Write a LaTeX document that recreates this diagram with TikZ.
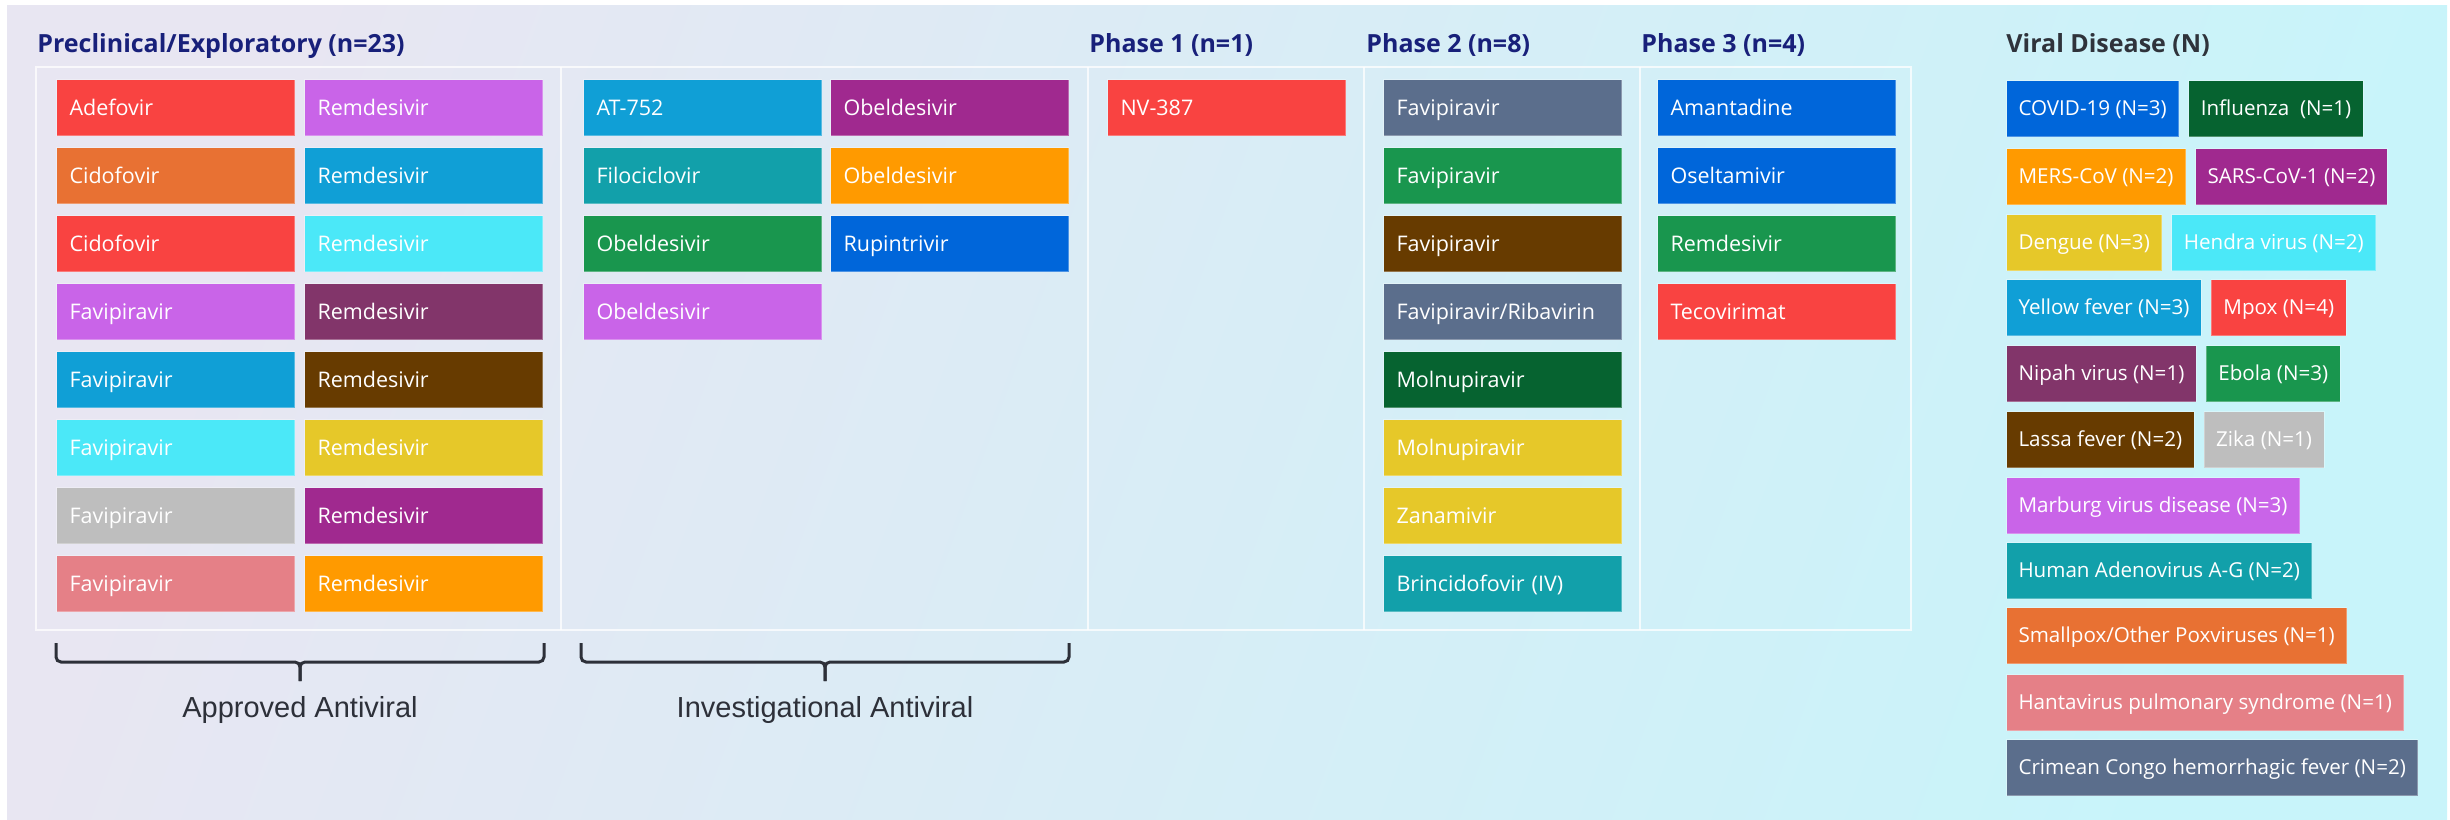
\documentclass[tikz,border=0pt]{standalone}
\usepackage{fontspec}
\setmainfont{Open Sans}
\newfontfamily\bracefont{Liberation Sans}
\usetikzlibrary{positioning}

\definecolor{cRed}{HTML}{F94341}
\definecolor{cOrange}{HTML}{E87133}
\definecolor{cViolet}{HTML}{C964E8}
\definecolor{cBlue}{HTML}{109FD6}
\definecolor{cCyan}{HTML}{4BE8F8}
\definecolor{cPlum}{HTML}{82356A}
\definecolor{cBrown}{HTML}{673B00}
\definecolor{cYellow}{HTML}{E6C829}
\definecolor{cGray}{HTML}{BEBEBE}
\definecolor{cMagenta}{HTML}{A0298F}
\definecolor{cPink}{HTML}{E58087}
\definecolor{cAmber}{HTML}{FF9A00}
\definecolor{cTeal}{HTML}{12A0AA}
\definecolor{cGreen}{HTML}{19964E}
\definecolor{cRoyal}{HTML}{0066DA}
\definecolor{cSlate}{HTML}{5B6E8C}
\definecolor{cForest}{HTML}{066330}
\definecolor{headnavy}{HTML}{18207A}
\definecolor{headgray}{HTML}{2F333B}
\definecolor{braceclr}{HTML}{2D3039}
\definecolor{bgA}{HTML}{E8E6F2}
\definecolor{bgB}{HTML}{C8F4FA}

\begin{document}
\begin{tikzpicture}[x=0.5pt,y=-0.5pt]

    \tikzset{drugbox/.style={anchor=north west, text width=106pt, inner xsep=6.5pt, minimum height=28pt,
                             align=left, text=white, font=\fontsize{10.75pt}{13pt}\selectfont,
                             text height=7.7pt, text depth=0pt, draw=white, draw opacity=0.3, line width=0.5pt},
             legbox/.style={minimum height=28pt, inner xsep=6pt, text=white, font=\fontsize{10.3pt}{12pt}\selectfont,
                            text height=7.4pt, text depth=0pt, draw=white, draw opacity=0.3, line width=0.5pt},
             headtxt/.style={anchor=base west, inner sep=0pt, text=headnavy,
                             font=\fontsize{12.5pt}{15pt}\selectfont\bfseries},
             bracelbl/.style={anchor=base, inner sep=0pt, text=braceclr,
                              font=\bracefont\fontsize{14.5pt}{17pt}\selectfont},
             tableline/.style={draw=white, draw opacity=0.75, line width=1pt}}

    % background
    \fill[white] (0,0) rectangle (2450,819);
    \shade[left color=bgA, right color=bgB, shading angle=70] (7,5) rectangle (2447,819);

    % headings
    \node[headtxt] (h1) at (37,52) {Preclinical/Exploratory (n=23)};
    \node[headtxt] (h2) at (1089,52) {Phase 1 (n=1)};
    \node[headtxt] (h3) at (1366,52) {Phase 2 (n=8)};
    \node[headtxt] (h4) at (1641,52) {Phase 3 (n=4)};
    \node[headtxt, text=headgray] (h5) at (2006,52) {Viral Disease (N)};

    % table frame
    \draw[tableline] (36,67) rectangle (1911,630);
    \draw[tableline] (561,67) -- (561,630);
    \draw[tableline] (1088,67) -- (1088,630);
    \draw[tableline] (1364,67) -- (1364,630);
    \draw[tableline] (1640,67) -- (1640,630);

    % preclinical, approved
    \node[drugbox, fill=cRed] (a1) at (56,79) {Adefovir};
    \node[drugbox, fill=cOrange] (a2) at (56,147) {Cidofovir};
    \node[drugbox, fill=cRed] (a3) at (56,215) {Cidofovir};
    \node[drugbox, fill=cViolet] (a4) at (56,283) {Favipiravir};
    \node[drugbox, fill=cBlue] (a5) at (56,351) {Favipiravir};
    \node[drugbox, fill=cCyan] (a6) at (56,419) {Favipiravir};
    \node[drugbox, fill=cGray] (a7) at (56,487) {Favipiravir};
    \node[drugbox, fill=cPink] (a8) at (56,555) {Favipiravir};
    \node[drugbox, fill=cViolet] (b1) at (304,79) {Remdesivir};
    \node[drugbox, fill=cBlue] (b2) at (304,147) {Remdesivir};
    \node[drugbox, fill=cCyan] (b3) at (304,215) {Remdesivir};
    \node[drugbox, fill=cPlum] (b4) at (304,283) {Remdesivir};
    \node[drugbox, fill=cBrown] (b5) at (304,351) {Remdesivir};
    \node[drugbox, fill=cYellow] (b6) at (304,419) {Remdesivir};
    \node[drugbox, fill=cMagenta] (b7) at (304,487) {Remdesivir};
    \node[drugbox, fill=cAmber] (b8) at (304,555) {Remdesivir};

    % preclinical, investigational
    \node[drugbox, fill=cBlue] (c1) at (583,79) {AT-752};
    \node[drugbox, fill=cTeal] (c2) at (583,147) {Filociclovir};
    \node[drugbox, fill=cGreen] (c3) at (583,215) {Obeldesivir};
    \node[drugbox, fill=cViolet] (c4) at (583,283) {Obeldesivir};
    \node[drugbox, fill=cMagenta] (d1) at (830,79) {Obeldesivir};
    \node[drugbox, fill=cAmber] (d2) at (830,147) {Obeldesivir};
    \node[drugbox, fill=cRoyal] (d3) at (830,215) {Rupintrivir};

    % phase 1
    \node[drugbox, fill=cRed] (e1) at (1107,79) {NV-387};

    % phase 2
    \node[drugbox, fill=cSlate] (f1) at (1383,79) {Favipiravir};
    \node[drugbox, fill=cGreen] (f2) at (1383,147) {Favipiravir};
    \node[drugbox, fill=cBrown] (f3) at (1383,215) {Favipiravir};
    \node[drugbox, fill=cSlate] (f4) at (1383,283) {Favipiravir/Ribavirin};
    \node[drugbox, fill=cForest] (f5) at (1383,351) {Molnupiravir};
    \node[drugbox, fill=cYellow] (f6) at (1383,419) {Molnupiravir};
    \node[drugbox, fill=cYellow] (f7) at (1383,487) {Zanamivir};
    \node[drugbox, fill=cTeal] (f8) at (1383,555) {Brincidofovir (IV)};

    % phase 3
    \node[drugbox, fill=cRoyal] (g1) at (1657,79) {Amantadine};
    \node[drugbox, fill=cRoyal] (g2) at (1657,147) {Oseltamivir};
    \node[drugbox, fill=cGreen] (g3) at (1657,215) {Remdesivir};
    \node[drugbox, fill=cRed] (g4) at (1657,283) {Tecovirimat};

    % braces
    \begin{scope}[every path/.style={draw=braceclr, line width=1.5pt, rounded corners=2.5pt}]
        \draw (56,643) -- (56,662) -- (300,662) -- (300,681);
        \draw (544,643) -- (544,662) -- (300,662) -- (300,681);
        \draw (581,643) -- (581,662) -- (825,662) -- (825,681);
        \draw (1069,643) -- (1069,662) -- (825,662) -- (825,681);
    \end{scope}
    \node[bracelbl] (l1) at (300,717) {Approved Antiviral};
    \node[bracelbl] (l2) at (825,717) {Investigational Antiviral};

    % viral disease legend
    \node[legbox, fill=cRoyal, anchor=north west] (v1) at (2006,80) {COVID-19 (N=3)};
    \node[legbox, fill=cForest, right=4.5pt of v1] (v2) {Influenza\ \ (N=1)};
    \node[legbox, fill=cAmber, anchor=north west] (v3) at (2006,148) {MERS-CoV (N=2)};
    \node[legbox, fill=cMagenta, right=4.5pt of v3] (v4) {SARS-CoV-1 (N=2)};
    \node[legbox, fill=cYellow, anchor=north west] (v5) at (2006,214) {Dengue (N=3)};
    \node[legbox, fill=cCyan, right=4.5pt of v5] (v6) {Hendra virus (N=2)};
    \node[legbox, fill=cBlue, anchor=north west] (v7) at (2006,279) {Yellow fever (N=3)};
    \node[legbox, fill=cRed, right=4.5pt of v7] (v8) {Mpox (N=4)};
    \node[legbox, fill=cPlum, anchor=north west] (v9) at (2006,345) {Nipah virus (N=1)};
    \node[legbox, fill=cGreen, right=4.5pt of v9] (v10) {Ebola (N=3)};
    \node[legbox, fill=cBrown, anchor=north west] (v11) at (2006,411) {Lassa fever (N=2)};
    \node[legbox, fill=cGray, right=4.5pt of v11] (v12) {Zika (N=1)};
    \node[legbox, fill=cViolet, anchor=north west] (v13) at (2006,477) {Marburg virus disease (N=3)};
    \node[legbox, fill=cTeal, anchor=north west] (v14) at (2006,542) {Human Adenovirus A-G (N=2)};
    \node[legbox, fill=cOrange, anchor=north west] (v15) at (2006,607) {Smallpox/Other Poxviruses (N=1)};
    \node[legbox, fill=cPink, anchor=north west] (v16) at (2006,674) {Hantavirus pulmonary syndrome (N=1)};
    \node[legbox, fill=cSlate, anchor=north west] (v17) at (2006,739) {Crimean Congo hemorrhagic fever (N=2)};

\end{tikzpicture}
\end{document}
